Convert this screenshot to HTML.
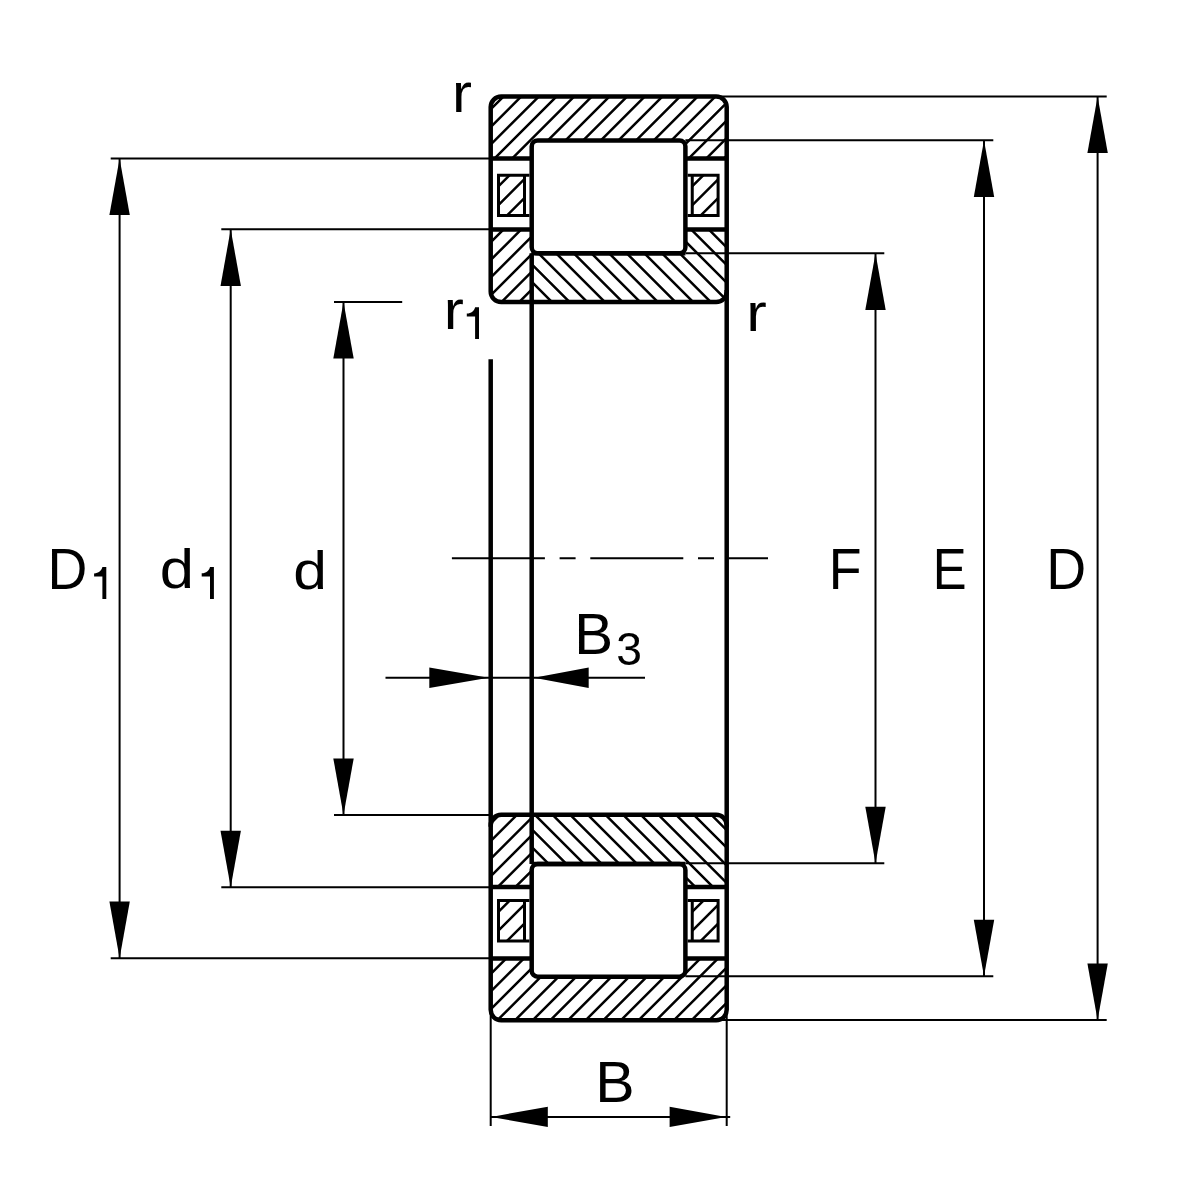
<!DOCTYPE html><html><head><meta charset="utf-8"><style>html,body{margin:0;padding:0;background:#fff;overflow:hidden;}svg{display:block;}</style></head><body><svg width="1200" height="1200" viewBox="0 0 1200 1200"><rect width="1200" height="1200" fill="#fff"/><defs><clipPath id="c1"><path d="M501.2,96.5 H716.2 A10.5,10.5 0 0 1 726.7,107.0 V291.6 A10.5,10.5 0 0 1 716.2,302.1 H501.2 A10.5,10.5 0 0 1 490.7,291.6 V107.0 A10.5,10.5 0 0 1 501.2,96.5 Z"/></clipPath><clipPath id="c2"><path d="M490.70,86.50 L726.70,86.50 L726.70,158.40 L685.40,158.40 L685.40,140.40 L531.70,140.40 L531.70,158.40 L490.70,158.40 Z"/></clipPath><clipPath id="c3"><path d="M498.50,175.30 L524.50,175.30 L524.50,215.50 L498.50,215.50 Z"/></clipPath><clipPath id="c4"><path d="M692.25,175.30 L718.10,175.30 L718.10,215.50 L692.25,215.50 Z"/></clipPath><clipPath id="c5"><path d="M490.70,229.40 L531.70,229.40 L531.70,312.10 L490.70,312.10 Z"/></clipPath><clipPath id="c6"><path d="M531.70,253.30 L685.40,253.30 L685.40,229.40 L726.70,229.40 L726.70,312.10 L531.70,312.10 Z"/></clipPath><clipPath id="c7"><path d="M501.2,814.8 H716.2 A10.5,10.5 0 0 1 726.7,825.3 V1009.8 A10.5,10.5 0 0 1 716.2,1020.3 H501.2 A10.5,10.5 0 0 1 490.7,1009.8 V825.3 A10.5,10.5 0 0 1 501.2,814.8 Z"/></clipPath><clipPath id="c8"><path d="M490.70,1030.30 L726.70,1030.30 L726.70,958.40 L685.40,958.40 L685.40,976.70 L531.70,976.70 L531.70,958.40 L490.70,958.40 Z"/></clipPath><clipPath id="c9"><path d="M498.50,900.60 L524.50,900.60 L524.50,940.90 L498.50,940.90 Z"/></clipPath><clipPath id="c10"><path d="M692.25,900.60 L718.10,900.60 L718.10,940.90 L692.25,940.90 Z"/></clipPath><clipPath id="c11"><path d="M490.70,886.90 L531.70,886.90 L531.70,804.80 L490.70,804.80 Z"/></clipPath><clipPath id="c12"><path d="M531.70,864.00 L685.40,864.00 L685.40,886.90 L726.70,886.90 L726.70,804.80 L531.70,804.80 Z"/></clipPath></defs><g clip-path="url(#c1)"><g clip-path="url(#c2)"><path d="M457.95,71.50 L346.05,183.40 M475.60,71.50 L363.70,183.40 M493.25,71.50 L381.35,183.40 M510.90,71.50 L399.00,183.40 M528.55,71.50 L416.65,183.40 M546.20,71.50 L434.30,183.40 M563.85,71.50 L451.95,183.40 M581.50,71.50 L469.60,183.40 M599.15,71.50 L487.25,183.40 M616.80,71.50 L504.90,183.40 M634.45,71.50 L522.55,183.40 M652.10,71.50 L540.20,183.40 M669.75,71.50 L557.85,183.40 M687.40,71.50 L575.50,183.40 M705.05,71.50 L593.15,183.40 M722.70,71.50 L610.80,183.40 M740.35,71.50 L628.45,183.40 M758.00,71.50 L646.10,183.40 M775.65,71.50 L663.75,183.40 M793.30,71.50 L681.40,183.40 M810.95,71.50 L699.05,183.40 M828.60,71.50 L716.70,183.40 M846.25,71.50 L734.35,183.40 M863.90,71.50 L752.00,183.40 M881.55,71.50 L769.65,183.40" stroke="#000" stroke-width="2.5" fill="none"/></g></g>
<g clip-path="url(#c3)"><path d="M463.10,165.30 L402.90,225.50 M481.90,165.30 L421.70,225.50 M500.70,165.30 L440.50,225.50 M519.50,165.30 L459.30,225.50 M538.30,165.30 L478.10,225.50 M557.10,165.30 L496.90,225.50 M575.90,165.30 L515.70,225.50 M594.70,165.30 L534.50,225.50 M613.50,165.30 L553.30,225.50" stroke="#000" stroke-width="2.5" fill="none"/></g>
<g clip-path="url(#c4)"><path d="M656.90,165.30 L596.70,225.50 M675.70,165.30 L615.50,225.50 M694.50,165.30 L634.30,225.50 M713.30,165.30 L653.10,225.50 M732.10,165.30 L671.90,225.50 M750.90,165.30 L690.70,225.50 M769.70,165.30 L709.50,225.50 M788.50,165.30 L728.30,225.50 M807.30,165.30 L747.10,225.50" stroke="#000" stroke-width="2.5" fill="none"/></g>
<g clip-path="url(#c1)"><g clip-path="url(#c5)"><path d="M465.65,214.40 L362.95,317.10 M483.30,214.40 L380.60,317.10 M500.95,214.40 L398.25,317.10 M518.60,214.40 L415.90,317.10 M536.25,214.40 L433.55,317.10 M553.90,214.40 L451.20,317.10 M571.55,214.40 L468.85,317.10 M589.20,214.40 L486.50,317.10 M606.85,214.40 L504.15,317.10 M624.50,214.40 L521.80,317.10 M642.15,214.40 L539.45,317.10 M659.80,214.40 L557.10,317.10" stroke="#000" stroke-width="2.5" fill="none"/></g></g>
<g clip-path="url(#c1)"><g clip-path="url(#c6)"><path d="M393.70,214.40 L496.40,317.10 M411.35,214.40 L514.05,317.10 M429.00,214.40 L531.70,317.10 M446.65,214.40 L549.35,317.10 M464.30,214.40 L567.00,317.10 M481.95,214.40 L584.65,317.10 M499.60,214.40 L602.30,317.10 M517.25,214.40 L619.95,317.10 M534.90,214.40 L637.60,317.10 M552.55,214.40 L655.25,317.10 M570.20,214.40 L672.90,317.10 M587.85,214.40 L690.55,317.10 M605.50,214.40 L708.20,317.10 M623.15,214.40 L725.85,317.10 M640.80,214.40 L743.50,317.10 M658.45,214.40 L761.15,317.10 M676.10,214.40 L778.80,317.10 M693.75,214.40 L796.45,317.10 M711.40,214.40 L814.10,317.10 M729.05,214.40 L831.75,317.10 M746.70,214.40 L849.40,317.10 M764.35,214.40 L867.05,317.10" stroke="#000" stroke-width="2.5" fill="none"/></g></g>
<path d="M501.2,96.5 H716.2 A10.5,10.5 0 0 1 726.7,107.0 V291.6 A10.5,10.5 0 0 1 716.2,302.1 H501.2 A10.5,10.5 0 0 1 490.7,291.6 V107.0 A10.5,10.5 0 0 1 501.2,96.5 Z" stroke="#000" fill="none" stroke-width="4.5"/>
<path d="M537.7,140.4 H679.4 A6.0,6.0 0 0 1 685.4,146.4 V247.3 A6.0,6.0 0 0 1 679.4,253.3 H537.7 A6.0,6.0 0 0 1 531.7,247.3 V146.4 A6.0,6.0 0 0 1 537.7,140.4 Z" fill="#fff" stroke="#000" stroke-width="4.5"/>
<path d="M490.7,158.4 H531.7 M685.4,158.4 H726.7" stroke="#000" fill="none" stroke-width="4.5"/>
<path d="M490.7,229.4 H531.7 M685.4,229.4 H726.7" stroke="#000" fill="none" stroke-width="4.5"/>
<path d="M531.7,253.3 H685.4" stroke="#000" fill="none" stroke-width="4.5"/>
<path d="M529.45,175.3 H498.5 V215.5 H529.45 M524.5,175.3 V215.5" stroke="#000" fill="none" stroke-width="3.0"/>
<path d="M687.65,175.3 H718.1 V215.5 H687.65 M692.25,175.3 V215.5" stroke="#000" fill="none" stroke-width="3.0"/>
<g clip-path="url(#c7)"><g clip-path="url(#c8)"><path d="M443.05,933.40 L331.15,1045.30 M460.70,933.40 L348.80,1045.30 M478.35,933.40 L366.45,1045.30 M496.00,933.40 L384.10,1045.30 M513.65,933.40 L401.75,1045.30 M531.30,933.40 L419.40,1045.30 M548.95,933.40 L437.05,1045.30 M566.60,933.40 L454.70,1045.30 M584.25,933.40 L472.35,1045.30 M601.90,933.40 L490.00,1045.30 M619.55,933.40 L507.65,1045.30 M637.20,933.40 L525.30,1045.30 M654.85,933.40 L542.95,1045.30 M672.50,933.40 L560.60,1045.30 M690.15,933.40 L578.25,1045.30 M707.80,933.40 L595.90,1045.30 M725.45,933.40 L613.55,1045.30 M743.10,933.40 L631.20,1045.30 M760.75,933.40 L648.85,1045.30 M778.40,933.40 L666.50,1045.30 M796.05,933.40 L684.15,1045.30 M813.70,933.40 L701.80,1045.30 M831.35,933.40 L719.45,1045.30 M849.00,933.40 L737.10,1045.30 M866.65,933.40 L754.75,1045.30 M884.30,933.40 L772.40,1045.30" stroke="#000" stroke-width="2.5" fill="none"/></g></g>
<g clip-path="url(#c9)"><path d="M463.30,890.60 L403.00,950.90 M482.10,890.60 L421.80,950.90 M500.90,890.60 L440.60,950.90 M519.70,890.60 L459.40,950.90 M538.50,890.60 L478.20,950.90 M557.30,890.60 L497.00,950.90 M576.10,890.60 L515.80,950.90 M594.90,890.60 L534.60,950.90 M613.70,890.60 L553.40,950.90" stroke="#000" stroke-width="2.5" fill="none"/></g>
<g clip-path="url(#c10)"><path d="M657.10,890.60 L596.80,950.90 M675.90,890.60 L615.60,950.90 M694.70,890.60 L634.40,950.90 M713.50,890.60 L653.20,950.90 M732.30,890.60 L672.00,950.90 M751.10,890.60 L690.80,950.90 M769.90,890.60 L709.60,950.90 M788.70,890.60 L728.40,950.90 M807.50,890.60 L747.20,950.90" stroke="#000" stroke-width="2.5" fill="none"/></g>
<g clip-path="url(#c7)"><g clip-path="url(#c11)"><path d="M461.40,799.80 L359.30,901.90 M479.05,799.80 L376.95,901.90 M496.70,799.80 L394.60,901.90 M514.35,799.80 L412.25,901.90 M532.00,799.80 L429.90,901.90 M549.65,799.80 L447.55,901.90 M567.30,799.80 L465.20,901.90 M584.95,799.80 L482.85,901.90 M602.60,799.80 L500.50,901.90 M620.25,799.80 L518.15,901.90 M637.90,799.80 L535.80,901.90 M655.55,799.80 L553.45,901.90 M673.20,799.80 L571.10,901.90" stroke="#000" stroke-width="2.5" fill="none"/></g></g>
<g clip-path="url(#c7)"><g clip-path="url(#c12)"><path d="M396.35,799.80 L498.45,901.90 M414.00,799.80 L516.10,901.90 M431.65,799.80 L533.75,901.90 M449.30,799.80 L551.40,901.90 M466.95,799.80 L569.05,901.90 M484.60,799.80 L586.70,901.90 M502.25,799.80 L604.35,901.90 M519.90,799.80 L622.00,901.90 M537.55,799.80 L639.65,901.90 M555.20,799.80 L657.30,901.90 M572.85,799.80 L674.95,901.90 M590.50,799.80 L692.60,901.90 M608.15,799.80 L710.25,901.90 M625.80,799.80 L727.90,901.90 M643.45,799.80 L745.55,901.90 M661.10,799.80 L763.20,901.90 M678.75,799.80 L780.85,901.90 M696.40,799.80 L798.50,901.90 M714.05,799.80 L816.15,901.90 M731.70,799.80 L833.80,901.90 M749.35,799.80 L851.45,901.90 M767.00,799.80 L869.10,901.90" stroke="#000" stroke-width="2.5" fill="none"/></g></g>
<path d="M501.2,814.8 H716.2 A10.5,10.5 0 0 1 726.7,825.3 V1009.8 A10.5,10.5 0 0 1 716.2,1020.3 H501.2 A10.5,10.5 0 0 1 490.7,1009.8 V825.3 A10.5,10.5 0 0 1 501.2,814.8 Z" stroke="#000" fill="none" stroke-width="4.5"/>
<path d="M537.7,864.0 H679.4 A6.0,6.0 0 0 1 685.4,870.0 V970.7 A6.0,6.0 0 0 1 679.4,976.7 H537.7 A6.0,6.0 0 0 1 531.7,970.7 V870.0 A6.0,6.0 0 0 1 537.7,864.0 Z" fill="#fff" stroke="#000" stroke-width="4.5"/>
<path d="M490.7,958.4 H531.7 M685.4,958.4 H726.7" stroke="#000" fill="none" stroke-width="4.5"/>
<path d="M490.7,886.9 H531.7 M685.4,886.9 H726.7" stroke="#000" fill="none" stroke-width="4.5"/>
<path d="M531.7,864.0 H685.4" stroke="#000" fill="none" stroke-width="4.5"/>
<path d="M529.45,900.6 H498.5 V940.9 H529.45 M524.5,900.6 V940.9" stroke="#000" fill="none" stroke-width="3.0"/>
<path d="M687.65,900.6 H718.1 V940.9 H687.65 M692.25,900.6 V940.9" stroke="#000" fill="none" stroke-width="3.0"/>
<path d="M531.7,253.3 V864.0 M726.7,290.1 V826.8" stroke="#000" fill="none" stroke-width="4.5"/>
<path d="M490.7,359.3 V826.8" stroke="#000" fill="none" stroke-width="4.5"/>
<path d="M119.6,158.4 V958.1999999999999" stroke="#000" fill="none" stroke-width="2.0"/>
<path d="M119.6,158.4 L109.40,215.00 L129.80,215.00 Z" fill="#000"/>
<path d="M119.6,958.1999999999999 L129.80,901.60 L109.40,901.60 Z" fill="#000"/>
<path d="M110.7,158.4 H490.7 M110.7,958.1999999999999 H490.7" stroke="#000" fill="none" stroke-width="2.0"/>
<path d="M230.7,229.3 V887.3" stroke="#000" fill="none" stroke-width="2.0"/>
<path d="M230.7,229.3 L220.50,285.90 L240.90,285.90 Z" fill="#000"/>
<path d="M230.7,887.3 L240.90,830.70 L220.50,830.70 Z" fill="#000"/>
<path d="M221.3,229.3 H490.7 M221.3,887.3 H490.7" stroke="#000" fill="none" stroke-width="2.0"/>
<path d="M343.5,302.0 V815.0" stroke="#000" fill="none" stroke-width="2.0"/>
<path d="M343.5,302.0 L333.30,358.60 L353.70,358.60 Z" fill="#000"/>
<path d="M343.5,815.0 L353.70,758.40 L333.30,758.40 Z" fill="#000"/>
<path d="M334,302 H402.2 M334,815.0 H490.7" stroke="#000" fill="none" stroke-width="2.0"/>
<path d="M875.5,253.3 V863.3" stroke="#000" fill="none" stroke-width="2.0"/>
<path d="M875.5,253.3 L865.30,309.90 L885.70,309.90 Z" fill="#000"/>
<path d="M875.5,863.3 L885.70,806.70 L865.30,806.70 Z" fill="#000"/>
<path d="M685.4,253.3 H884.3 M685.4,863.3 H884.3" stroke="#000" fill="none" stroke-width="2.0"/>
<path d="M984.0,140.3 V976.3" stroke="#000" fill="none" stroke-width="2.0"/>
<path d="M984.0,140.3 L973.80,196.90 L994.20,196.90 Z" fill="#000"/>
<path d="M984.0,976.3 L994.20,919.70 L973.80,919.70 Z" fill="#000"/>
<path d="M685.4,140.3 H993.3 M685.4,976.3 H993.3" stroke="#000" fill="none" stroke-width="2.0"/>
<path d="M1097.6,96.4 V1020.1999999999999" stroke="#000" fill="none" stroke-width="2.0"/>
<path d="M1097.6,96.4 L1087.40,153.00 L1107.80,153.00 Z" fill="#000"/>
<path d="M1097.6,1020.1999999999999 L1107.80,963.60 L1087.40,963.60 Z" fill="#000"/>
<path d="M715,96.4 H1106.7 M715,1020.1 H1106.7" stroke="#000" fill="none" stroke-width="2.0"/>
<path d="M490.7,814.4999999999999 V1126 M726.7,814.4999999999999 V1126" stroke="#000" fill="none" stroke-width="2.0"/>
<path d="M490.7,1116.9 H730.2" stroke="#000" fill="none" stroke-width="2.0"/>
<path d="M491.2,1116.9 L547.80,1127.10 L547.80,1106.70 Z" fill="#000"/>
<path d="M726.2,1116.9 L669.60,1106.70 L669.60,1127.10 Z" fill="#000"/>
<path d="M385.5,677.8 H645" stroke="#000" fill="none" stroke-width="2.0"/>
<path d="M488.6,677.8 L429.30,667.60 L429.30,688.00 Z" fill="#000"/>
<path d="M534.0,677.8 L588.70,688.00 L588.70,667.60 Z" fill="#000"/>
<path d="M451.9,558.3 H768" stroke="#000" fill="none" stroke-width="2.0" stroke-dasharray="93 14.7 16 14.7"/>
<g style="will-change:transform">
<text transform="translate(452.02,111.70) scale(1.09813,1)" font-size="54.64" style="font-family:'Liberation Sans',sans-serif" fill="#000">r</text>
<text transform="translate(443.79,328.80) scale(1.09799,1)" font-size="55.01" style="font-family:'Liberation Sans',sans-serif" fill="#000">r</text>
<path d="M475.10,307.20 H479.00 V339.10 H475.10 V316.60 H466.80 V313.50 C471.30,313.50 474.30,310.70 475.10,307.20 Z" fill="#000"/>
<text transform="translate(746.21,331.30) scale(1.13127,1)" font-size="54.45" style="font-family:'Liberation Sans',sans-serif" fill="#000">r</text>
<text transform="translate(47.47,588.70) scale(0.95677,1)" font-size="57.70" style="font-family:'Liberation Sans',sans-serif" fill="#000">D</text>
<path d="M102.40,567.10 H106.30 V598.90 H102.40 V576.47 H94.10 V573.38 C98.60,573.38 101.60,570.59 102.40,567.10 Z" fill="#000"/>
<text transform="translate(159.71,588.46) scale(1.12383,1)" font-size="54.81" style="font-family:'Liberation Sans',sans-serif" fill="#000">d</text>
<path d="M210.00,567.00 H213.90 V598.90 H210.00 V576.40 H201.70 V573.30 C206.20,573.30 209.20,570.50 210.00,567.00 Z" fill="#000"/>
<text transform="translate(293.21,589.22) scale(1.11249,1)" font-size="54.47" style="font-family:'Liberation Sans',sans-serif" fill="#000">d</text>
<text transform="translate(828.84,588.75) scale(0.94138,1)" font-size="57.05" style="font-family:'Liberation Sans',sans-serif" fill="#000">F</text>
<text transform="translate(932.84,588.75) scale(0.89507,1)" font-size="56.69" style="font-family:'Liberation Sans',sans-serif" fill="#000">E</text>
<text transform="translate(1046.21,588.75) scale(0.96922,1)" font-size="57.05" style="font-family:'Liberation Sans',sans-serif" fill="#000">D</text>
<text transform="translate(574.22,654.00) scale(1.01966,1)" font-size="57.12" style="font-family:'Liberation Sans',sans-serif" fill="#000">B</text>
<text transform="translate(616.34,664.55) scale(1.01249,1)" font-size="45.62" style="font-family:'Liberation Sans',sans-serif" fill="#000">3</text>
<text transform="translate(595.26,1102.20) scale(1.03545,1)" font-size="56.98" style="font-family:'Liberation Sans',sans-serif" fill="#000">B</text>
</g></svg></body></html>
